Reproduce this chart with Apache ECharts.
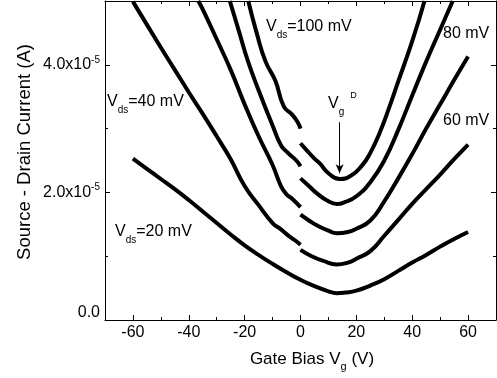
<!DOCTYPE html>
<html>
<head>
<meta charset="utf-8">
<script src="https://cdn.jsdelivr.net/npm/echarts@6/dist/echarts.min.js"></script>
<style>
  html, body { margin: 0; padding: 0; background: #fff; }
  #chart { width: 497px; height: 378px; }
</style>
</head>
<body>
<div id="chart"></div>
<script>
// Gate bias (V) and source-drain current (x10^-5 A)
const vg20 = [-60, -55, -50, -45, -40, -35, -30, -25, -20, -15, -10, -5, 0, 5, 10, 13, 16, 20, 25, 30, 35, 40, 45, 50, 55, 60]
const id20 = [2.53, 2.37, 2.21, 2.05, 1.88, 1.70, 1.52, 1.34, 1.17, 1.02, 0.88, 0.75, 0.63, 0.53, 0.45, 0.42, 0.43, 0.46, 0.54, 0.64, 0.77, 0.90, 1.02, 1.15, 1.27, 1.38]

const vg40L = [-60, -55, -50, -45, -40, -35, -30, -25, -20, -15, -10, -7, -4, -2, 0]
const id40L = [4.99, 4.63, 4.27, 3.92, 3.57, 3.23, 2.88, 2.52, 2.10, 1.80, 1.52, 1.42, 1.31, 1.25, 1.18]
const vg40R = [0, 4, 8, 13, 17, 20, 25, 30, 35, 40, 45, 50, 55, 60]
const id40R = [1.10, 1.00, 0.93, 0.87, 0.90, 0.96, 1.08, 1.32, 1.57, 1.82, 2.05, 2.28, 2.52, 2.75]

const vg60L = [-36.6, -35, -30, -25, -20, -15, -10, -7, -5, -3, 0]
const id60L = [5.0, 4.87, 4.40, 3.92, 3.38, 2.88, 2.43, 2.10, 1.97, 1.90, 1.77]
const vg60R = [0, 3, 6, 10, 13, 17, 20, 25, 30, 35, 40, 45, 50, 55, 60]
const id60R = [1.65, 1.56, 1.48, 1.40, 1.36, 1.38, 1.43, 1.56, 1.86, 2.22, 2.60, 3.00, 3.38, 3.76, 4.13]

const vg80L = [-25.3, -22, -19, -15, -10, -7, -4.5, -1.5, 0]
const id80L = [5.0, 4.52, 4.08, 3.60, 3.05, 2.74, 2.62, 2.50, 2.41]
const vg80R = [0, 3, 6, 10, 13, 16, 20, 25, 30, 35, 40, 45, 50, 54.5]
const id80R = [2.22, 2.10, 1.98, 1.86, 1.82, 1.85, 1.94, 2.16, 2.50, 2.98, 3.52, 4.05, 4.55, 5.0]

const vg100L = [-18.7, -15.7, -12.5, -9, -6, -3, -1, 0]
const id100L = [5.0, 4.50, 4.05, 3.75, 3.35, 3.22, 3.10, 3.00]
const vg100R = [0, 2, 5, 7, 10, 14, 18, 22, 25, 28.5, 32, 35, 40, 44.4]
const id100R = [2.77, 2.67, 2.53, 2.45, 2.30, 2.21, 2.26, 2.42, 2.62, 2.95, 3.36, 3.74, 4.37, 5.0]

// ticks
const xTicks = [-60, -40, -20, 0, 20, 40, 60]
const xMinorTicks = [-50, -30, -10, 10, 30, 50]
const yTicks = [0, 2, 4]
const yMinorTicks = [1, 3]

const font = "'Liberation Sans', Arial, sans-serif"
const black = "#000"

const chart = echarts.init(document.getElementById("chart"))

const pairs = (xs, ys) => xs.map((x, i) => [x, ys[i]])

const curve = (xs, ys, extra) =>
  Object.assign(
    {
      type: "line",
      data: pairs(xs, ys),
      showSymbol: false,
      smooth: 0.5,
      lineStyle: { color: black, width: 4 },
      silent: true,
    },
    extra || {}
  )

const xAxisBase = (position, ticks, len, withLine, labels) => ({
  type: "value",
  min: -70,
  max: 70,
  position: position,
  axisLine: { show: withLine, onZero: false, lineStyle: { color: black, width: 1 } },
  axisTick: { inside: true, length: len, customValues: ticks, lineStyle: { color: black } },
  axisLabel: labels
    ? { customValues: ticks, fontSize: 16, color: black, fontFamily: font, margin: 5 }
    : { show: false },
  splitLine: { show: false },
})

const yAxisBase = (position, ticks, len, withLine, labels) => ({
  type: "value",
  min: 0,
  max: 5,
  position: position,
  axisLine: { show: withLine, onZero: false, lineStyle: { color: black, width: 1 } },
  axisTick: { inside: true, length: len, customValues: ticks, lineStyle: { color: black } },
  axisLabel: labels
    ? {
        customValues: ticks,
        margin: 5,
        formatter: (v) => (v === 0 ? "{z|0.0}" : "{n|" + v.toFixed(1) + "x10}{p|-5}"),
        rich: {
          n: { fontSize: 16, color: black, fontFamily: font, lineHeight: 20 },
          p: { fontSize: 10, color: black, fontFamily: font, verticalAlign: "top" },
          z: { fontSize: 16, color: black, fontFamily: font, padding: [0, 0, 14, 0] },
        },
      }
    : { show: false },
  splitLine: { show: false },
})

// rich text used by the annotations
const rich = {
  n: { fontSize: 16, fontFamily: font, color: black, lineHeight: 26, verticalAlign: "middle" },
  s: { fontSize: 10, fontFamily: font, color: black, verticalAlign: "bottom" },
  p: { fontSize: 9, fontFamily: font, color: black, verticalAlign: "top", padding: [0, 0, 0, 6] },
}

const note = (x, y, text) => ({
  type: "text",
  x: x,
  y: y,
  silent: true,
  style: { text: text, rich: rich, align: "left", verticalAlign: "top" },
})

const option = {
  backgroundColor: "#fff",
  animation: false,
  grid: { left: 105, right: 1, top: 1, bottom: 58, containLabel: false },
  xAxis: [
    xAxisBase("bottom", xTicks, 5, true, true),
    xAxisBase("bottom", xMinorTicks, 3, false, false),
    xAxisBase("top", xTicks, 5, true, false),
    xAxisBase("top", xMinorTicks, 3, false, false),
  ],
  yAxis: [
    yAxisBase("left", yTicks, 5, true, true),
    yAxisBase("left", yMinorTicks, 3, false, false),
    yAxisBase("right", yTicks, 5, true, false),
    yAxisBase("right", yMinorTicks, 3, false, false),
  ],
  series: [
    curve(vg20, id20),
    curve(vg40L, id40L),
    curve(vg40R, id40R),
    curve(vg60L, id60L),
    curve(vg60R, id60R),
    curve(vg80L, id80L),
    curve(vg80R, id80R),
    curve(vg100L, id100L),
    curve(vg100R, id100R, {
      // arrow pointing at the Dirac point
      markLine: {
        silent: true,
        symbol: ["none", "arrow"],
        symbolSize: [6, 9],
        label: { show: false },
        lineStyle: { color: black, width: 1, type: "solid" },
        data: [[{ coord: [14, 3.1] }, { coord: [14, 2.3] }]],
      },
    }),
  ],
  graphic: [
    note(266, 14, "{n|V}{s|ds}{n|=100 mV}"),
    note(443, 21, "{n|80 mV}"),
    note(107, 89, "{n|V}{s|ds}{n|=40 mV}"),
    note(443, 108, "{n|60 mV}"),
    note(115, 219, "{n|V}{s|ds}{n|=20 mV}"),
    note(328, 91, "{n|V}{s|g}{p|D}"),
    // axis titles
    {
      type: "text",
      x: 312,
      y: 346,
      silent: true,
      style: {
        text: "{t|Gate Bias V}{u|g}{t| (V)}",
        align: "center",
        verticalAlign: "top",
        rich: {
          t: { fontSize: 17, fontFamily: font, color: black, lineHeight: 26, verticalAlign: "middle" },
          u: { fontSize: 11, fontFamily: font, color: black, verticalAlign: "bottom" },
        },
      },
    },
    {
      type: "text",
      x: 25,
      y: 152,
      rotation: Math.PI / 2,
      silent: true,
      style: {
        text: "Source - Drain Current (A)",
        fontSize: 18.5,
        fontFamily: font,
        fill: black,
        align: "center",
        verticalAlign: "middle",
      },
    },
  ],
}

chart.setOption(option)
</script>
</body>
</html>
